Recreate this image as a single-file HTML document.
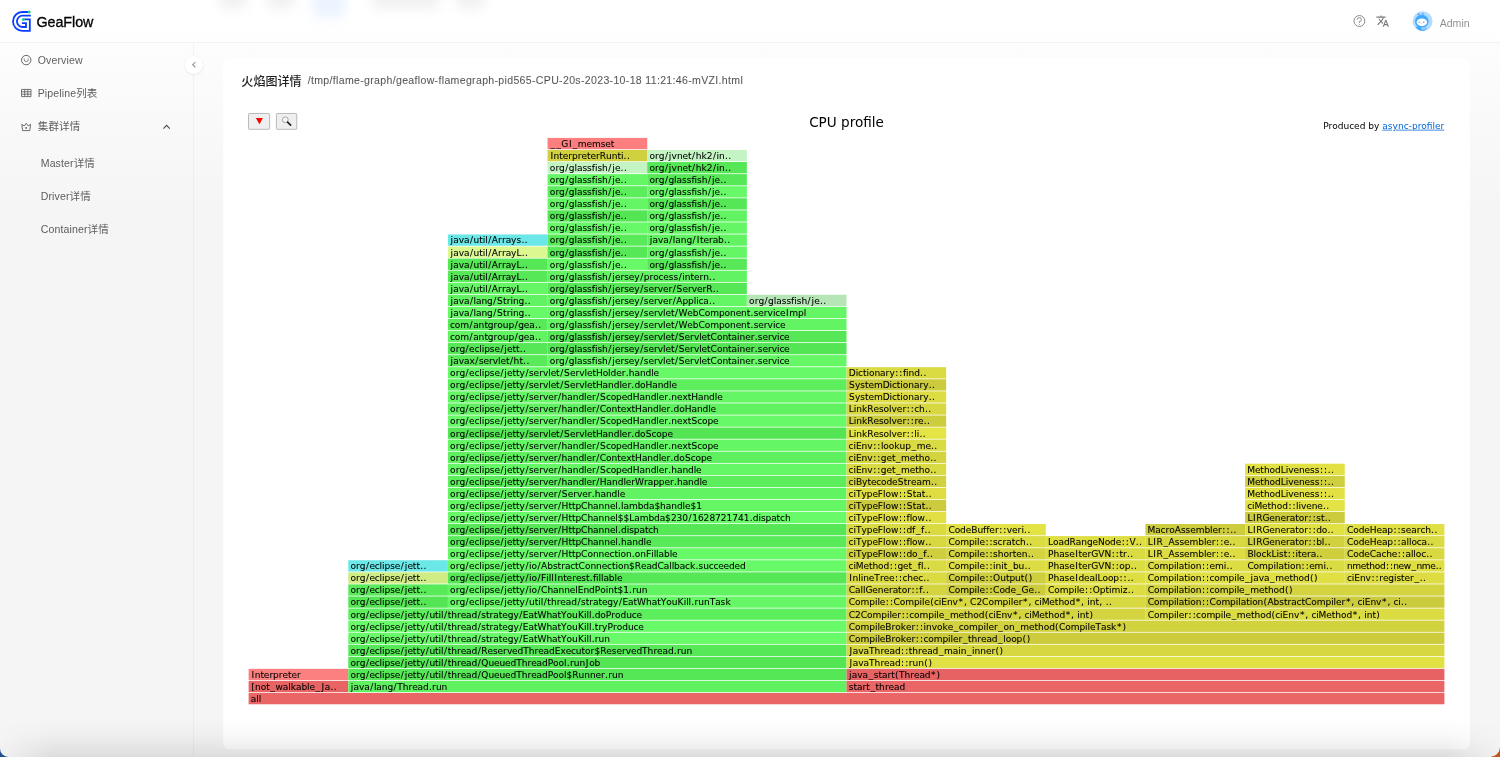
<!DOCTYPE html>
<html lang="zh-CN">
<head>
<meta charset="utf-8">
<title>GeaFlow</title>
<style>
html,body{margin:0;padding:0;width:1500px;height:757px;overflow:hidden;background:#f5f5f5}
body{font-family:"Liberation Sans","Noto Sans CJK SC",sans-serif;font-size:14px;color:rgba(0,0,0,.88)}
#app{position:absolute;left:0;top:0;width:1989px;height:1004px;transform:scale(0.754148);transform-origin:0 0;overflow:hidden;background:linear-gradient(#ffffff,#f5f5f5 28%)}
#app *{box-sizing:border-box}
.abs{position:absolute}
#hdr{position:absolute;left:0;top:0;width:1989px;height:57px;background:rgba(255,255,255,.6);border-bottom:1px solid rgba(5,5,5,.06);z-index:5}
#sider{position:absolute;left:0;top:56px;width:257px;height:948px;border-right:1px solid rgba(5,5,5,.05)}
.mi{position:absolute;left:50px;height:40px;line-height:40px;font-size:14px;color:rgba(0,0,0,.65);white-space:nowrap;letter-spacing:.15px}
.sub{left:54px}
#card{position:absolute;left:296px;top:78px;width:1653px;height:915.5px;background:#fff;border-radius:8px}
#fg{position:absolute;left:0;top:0;font-family:"DejaVu Sans","Liberation Sans",sans-serif;font-size:12px;color:#000}
.btn{position:absolute;top:149.8px;height:22.3px;background:#efefef;border:1.1px solid #a6a6a6;border-radius:1.6px}
#ov{position:absolute;left:0;top:0;width:1500px;height:757px;z-index:9;pointer-events:none}
#frames text{stroke:#000;stroke-width:.08px}
#shade{position:absolute;left:0;top:955px;width:1989px;height:49px;background:linear-gradient(rgba(0,0,0,0),rgba(0,0,0,.025) 40%,rgba(0,0,0,.095));z-index:8;-webkit-mask-image:linear-gradient(to right,rgba(0,0,0,.15) 0,#000 70px,#000 1919px,rgba(0,0,0,.15) 1989px);mask-image:linear-gradient(to right,rgba(0,0,0,.15) 0,#000 70px,#000 1919px,rgba(0,0,0,.15) 1989px)}
.blob{position:absolute;top:-14px;height:26px;border-radius:13px;background:#dcdcdc;filter:blur(7px)}

</style>
</head>
<body>
<div id="app">
  <div class="blob" style="left:288px;width:40px"></div>
  <div class="blob" style="left:352px;width:40px"></div>
  <div class="blob" style="left:414px;width:44px;background:#d0e4ff;height:46px;top:-22px"></div>
  <div class="blob" style="left:492px;width:92px"></div>
  <div class="blob" style="left:604px;width:40px"></div>
  <div id="sider">
    <div class="mi" style="top:4px">Overview</div>
    <div class="mi" style="top:48px">Pipeline列表</div>
    <div class="mi" style="top:92px">集群详情</div>
    <div class="mi sub" style="top:140px">Master详情</div>
    <div class="mi sub" style="top:184px">Driver详情</div>
    <div class="mi sub" style="top:228px">Container详情</div>
  </div>
  <div class="abs" id="colbtn" style="left:245px;top:73.5px;width:24px;height:24px;border-radius:12px;background:#fff;box-shadow:0 2px 8px -2px rgba(0,0,0,.05),0 1px 4px -1px rgba(25,15,15,.07),0 0 1px 0 rgba(0,0,0,.08)"></div>
  <div id="card">
    <div class="abs" id="ttl" style="left:24px;top:18.5px;height:24px;line-height:24px;white-space:nowrap"><span style="font-size:16px;font-weight:500;color:rgba(0,0,0,.88)">火焰图详情</span><span style="font-size:14px;color:rgba(0,0,0,.65);margin-left:8px;letter-spacing:.43px;position:relative;top:-1.5px;-webkit-text-stroke:.15px rgba(0,0,0,.5)">/tmp/flame-graph/geaflow-flamegraph-pid565-CPU-20s-2023-10-18 11:21:46-mVZI.html</span></div>
  </div>
  <div id="fg">
    <div class="btn" style="left:329.2px;width:28.7px"></div>
    <div class="btn" style="left:366.2px;width:27.9px"></div>
    <div class="abs" id="h1" style="left:330px;width:1585px;top:150.5px;text-align:center;font-size:18px;line-height:24px">CPU profile</div>
    <div class="abs" id="prod" style="left:330px;width:1585px;top:155px;text-align:right;line-height:24px">Produced by <a style="color:#0366d6;text-decoration:underline">async-profiler</a></div>
  </div>
  <div id="hdr">
    <div class="abs" id="logotxt" style="left:48.4px;top:15.8px;font-size:19px;line-height:28px;color:#000;letter-spacing:-.1px;-webkit-text-stroke:.4px #000">GeaFlow</div>
    <div class="abs" id="admin" style="left:1909px;top:19.6px;font-size:14px;line-height:22px;color:rgba(0,0,0,.45)">Admin</div>
  </div>
  <div id="shade"></div>
</div>
<svg id="ov" width="1500" height="757" viewBox="0 0 1500 757">
<g id="frames" font-family="'DejaVu Sans','Liberation Sans',sans-serif" font-size="9.05" fill="#000">
<rect x="248.62" y="692.96" width="1195.78" height="11.31" fill="#ea6666"/>
<rect x="248.62" y="680.90" width="99.65" height="11.31" fill="#e86464"/>
<rect x="348.27" y="680.90" width="498.24" height="11.31" fill="#60f160"/>
<rect x="846.51" y="680.90" width="597.89" height="11.31" fill="#ea6666"/>
<rect x="248.62" y="668.83" width="99.65" height="11.31" fill="#fd8080"/>
<rect x="348.27" y="668.83" width="498.24" height="11.31" fill="#56e756"/>
<rect x="846.51" y="668.83" width="597.89" height="11.31" fill="#e76262"/>
<rect x="348.27" y="656.76" width="498.24" height="11.31" fill="#54e554"/>
<rect x="846.51" y="656.76" width="597.89" height="11.31" fill="#e1e144"/>
<rect x="348.27" y="644.70" width="498.24" height="11.31" fill="#57e857"/>
<rect x="846.51" y="644.70" width="597.89" height="11.31" fill="#d7d741"/>
<rect x="348.27" y="632.63" width="498.24" height="11.31" fill="#69fa69"/>
<rect x="846.51" y="632.63" width="597.89" height="11.31" fill="#cccc3d"/>
<rect x="348.27" y="620.56" width="498.24" height="11.31" fill="#69fa69"/>
<rect x="846.51" y="620.56" width="597.89" height="11.31" fill="#d2d23f"/>
<rect x="348.27" y="608.50" width="498.24" height="11.31" fill="#5dee5d"/>
<rect x="846.51" y="608.50" width="298.95" height="11.31" fill="#d4d440"/>
<rect x="1145.46" y="608.50" width="298.95" height="11.31" fill="#dbdb42"/>
<rect x="348.27" y="596.43" width="99.65" height="11.31" fill="#54e554"/>
<rect x="447.92" y="596.43" width="398.59" height="11.31" fill="#66f766"/>
<rect x="846.51" y="596.43" width="298.95" height="11.31" fill="#d8d841"/>
<rect x="1145.46" y="596.43" width="298.95" height="11.31" fill="#cbcb3d"/>
<rect x="348.27" y="584.36" width="99.65" height="11.31" fill="#59ea59"/>
<rect x="447.92" y="584.36" width="398.59" height="11.31" fill="#62f362"/>
<rect x="846.51" y="584.36" width="99.65" height="11.31" fill="#d4d440"/>
<rect x="946.16" y="584.36" width="99.65" height="11.31" fill="#cccc3d"/>
<rect x="1045.81" y="584.36" width="99.65" height="11.31" fill="#dddd43"/>
<rect x="1145.46" y="584.36" width="298.95" height="11.31" fill="#d4d440"/>
<rect x="348.27" y="572.30" width="99.65" height="11.31" fill="#d0ec84"/>
<rect x="447.92" y="572.30" width="398.59" height="11.31" fill="#56e756"/>
<rect x="846.51" y="572.30" width="99.65" height="11.31" fill="#dada42"/>
<rect x="946.16" y="572.30" width="99.65" height="11.31" fill="#cece3e"/>
<rect x="1045.81" y="572.30" width="99.65" height="11.31" fill="#dede43"/>
<rect x="1145.46" y="572.30" width="199.30" height="11.31" fill="#e0e044"/>
<rect x="1344.75" y="572.30" width="99.65" height="11.31" fill="#dddd43"/>
<rect x="348.27" y="560.23" width="99.65" height="11.31" fill="#6be7e7"/>
<rect x="447.92" y="560.23" width="398.59" height="11.31" fill="#68f968"/>
<rect x="846.51" y="560.23" width="99.65" height="11.31" fill="#dada42"/>
<rect x="946.16" y="560.23" width="99.65" height="11.31" fill="#dddd43"/>
<rect x="1045.81" y="560.23" width="99.65" height="11.31" fill="#dbdb42"/>
<rect x="1145.46" y="560.23" width="99.65" height="11.31" fill="#dddd43"/>
<rect x="1245.10" y="560.23" width="99.65" height="11.31" fill="#dada42"/>
<rect x="1344.75" y="560.23" width="99.65" height="11.31" fill="#dede43"/>
<rect x="447.92" y="548.17" width="398.59" height="11.31" fill="#68f968"/>
<rect x="846.51" y="548.17" width="99.65" height="11.31" fill="#cece3e"/>
<rect x="946.16" y="548.17" width="99.65" height="11.31" fill="#d4d440"/>
<rect x="1045.81" y="548.17" width="99.65" height="11.31" fill="#dada42"/>
<rect x="1145.46" y="548.17" width="99.65" height="11.31" fill="#dddd43"/>
<rect x="1245.10" y="548.17" width="99.65" height="11.31" fill="#cfcf3e"/>
<rect x="1344.75" y="548.17" width="99.65" height="11.31" fill="#d8d841"/>
<rect x="447.92" y="536.10" width="398.59" height="11.31" fill="#59ea59"/>
<rect x="846.51" y="536.10" width="99.65" height="11.31" fill="#d7d741"/>
<rect x="946.16" y="536.10" width="99.65" height="11.31" fill="#dbdb42"/>
<rect x="1045.81" y="536.10" width="99.65" height="11.31" fill="#dede43"/>
<rect x="1145.46" y="536.10" width="99.65" height="11.31" fill="#d8d841"/>
<rect x="1245.10" y="536.10" width="99.65" height="11.31" fill="#d1d13f"/>
<rect x="1344.75" y="536.10" width="99.65" height="11.31" fill="#dada42"/>
<rect x="447.92" y="524.03" width="398.59" height="11.31" fill="#56e756"/>
<rect x="846.51" y="524.03" width="99.65" height="11.31" fill="#dada42"/>
<rect x="946.16" y="524.03" width="99.65" height="11.31" fill="#e3e345"/>
<rect x="1145.46" y="524.03" width="99.65" height="11.31" fill="#cccc3d"/>
<rect x="1245.10" y="524.03" width="99.65" height="11.31" fill="#e1e144"/>
<rect x="1344.75" y="524.03" width="99.65" height="11.31" fill="#e0e044"/>
<rect x="447.92" y="511.97" width="398.59" height="11.31" fill="#69fa69"/>
<rect x="846.51" y="511.97" width="99.65" height="11.31" fill="#e0e044"/>
<rect x="1245.10" y="511.97" width="99.65" height="11.31" fill="#cbcb3d"/>
<rect x="447.92" y="499.90" width="398.59" height="11.31" fill="#65f665"/>
<rect x="846.51" y="499.90" width="99.65" height="11.31" fill="#cbcb3d"/>
<rect x="1245.10" y="499.90" width="99.65" height="11.31" fill="#e3e345"/>
<rect x="447.92" y="487.83" width="398.59" height="11.31" fill="#62f362"/>
<rect x="846.51" y="487.83" width="99.65" height="11.31" fill="#dede43"/>
<rect x="1245.10" y="487.83" width="99.65" height="11.31" fill="#e1e144"/>
<rect x="447.92" y="475.77" width="398.59" height="11.31" fill="#5ced5c"/>
<rect x="846.51" y="475.77" width="99.65" height="11.31" fill="#d1d13f"/>
<rect x="1245.10" y="475.77" width="99.65" height="11.31" fill="#cece3e"/>
<rect x="447.92" y="463.70" width="398.59" height="11.31" fill="#66f766"/>
<rect x="846.51" y="463.70" width="99.65" height="11.31" fill="#dada42"/>
<rect x="1245.10" y="463.70" width="99.65" height="11.31" fill="#e1e144"/>
<rect x="447.92" y="451.63" width="398.59" height="11.31" fill="#5ff05f"/>
<rect x="846.51" y="451.63" width="99.65" height="11.31" fill="#d4d440"/>
<rect x="447.92" y="439.57" width="398.59" height="11.31" fill="#65f665"/>
<rect x="846.51" y="439.57" width="99.65" height="11.31" fill="#dada42"/>
<rect x="447.92" y="427.50" width="398.59" height="11.31" fill="#54e554"/>
<rect x="846.51" y="427.50" width="99.65" height="11.31" fill="#e4e445"/>
<rect x="447.92" y="415.44" width="398.59" height="11.31" fill="#68f968"/>
<rect x="846.51" y="415.44" width="99.65" height="11.31" fill="#cccc3d"/>
<rect x="447.92" y="403.37" width="398.59" height="11.31" fill="#60f160"/>
<rect x="846.51" y="403.37" width="99.65" height="11.31" fill="#d7d741"/>
<rect x="447.92" y="391.30" width="398.59" height="11.31" fill="#65f665"/>
<rect x="846.51" y="391.30" width="99.65" height="11.31" fill="#dddd43"/>
<rect x="447.92" y="379.24" width="398.59" height="11.31" fill="#5dee5d"/>
<rect x="846.51" y="379.24" width="99.65" height="11.31" fill="#cbcb3d"/>
<rect x="447.92" y="367.17" width="398.59" height="11.31" fill="#68f968"/>
<rect x="846.51" y="367.17" width="99.65" height="11.31" fill="#dada42"/>
<rect x="447.92" y="355.10" width="99.65" height="11.31" fill="#59ea59"/>
<rect x="547.57" y="355.10" width="298.95" height="11.31" fill="#66f766"/>
<rect x="447.92" y="343.04" width="99.65" height="11.31" fill="#56e756"/>
<rect x="547.57" y="343.04" width="298.95" height="11.31" fill="#54e554"/>
<rect x="447.92" y="330.97" width="99.65" height="11.31" fill="#62f362"/>
<rect x="547.57" y="330.97" width="298.95" height="11.31" fill="#56e756"/>
<rect x="447.92" y="318.90" width="99.65" height="11.31" fill="#59ea59"/>
<rect x="547.57" y="318.90" width="298.95" height="11.31" fill="#63f463"/>
<rect x="447.92" y="306.84" width="99.65" height="11.31" fill="#68f968"/>
<rect x="547.57" y="306.84" width="298.95" height="11.31" fill="#65f665"/>
<rect x="447.92" y="294.77" width="99.65" height="11.31" fill="#62f362"/>
<rect x="547.57" y="294.77" width="199.30" height="11.31" fill="#65f665"/>
<rect x="746.86" y="294.77" width="99.65" height="11.31" fill="#b6e5b6"/>
<rect x="447.92" y="282.71" width="99.65" height="11.31" fill="#65f665"/>
<rect x="547.57" y="282.71" width="199.30" height="11.31" fill="#56e756"/>
<rect x="447.92" y="270.64" width="99.65" height="11.31" fill="#57e857"/>
<rect x="547.57" y="270.64" width="199.30" height="11.31" fill="#62f362"/>
<rect x="447.92" y="258.57" width="99.65" height="11.31" fill="#56e756"/>
<rect x="547.57" y="258.57" width="99.65" height="11.31" fill="#68f968"/>
<rect x="647.21" y="258.57" width="99.65" height="11.31" fill="#57e857"/>
<rect x="447.92" y="246.51" width="99.65" height="11.31" fill="#dcf890"/>
<rect x="547.57" y="246.51" width="99.65" height="11.31" fill="#57e857"/>
<rect x="647.21" y="246.51" width="99.65" height="11.31" fill="#65f665"/>
<rect x="447.92" y="234.44" width="99.65" height="11.31" fill="#6be7e7"/>
<rect x="547.57" y="234.44" width="99.65" height="11.31" fill="#59ea59"/>
<rect x="647.21" y="234.44" width="99.65" height="11.31" fill="#62f362"/>
<rect x="547.57" y="222.37" width="99.65" height="11.31" fill="#68f968"/>
<rect x="647.21" y="222.37" width="99.65" height="11.31" fill="#65f665"/>
<rect x="547.57" y="210.31" width="99.65" height="11.31" fill="#54e554"/>
<rect x="647.21" y="210.31" width="99.65" height="11.31" fill="#62f362"/>
<rect x="547.57" y="198.24" width="99.65" height="11.31" fill="#65f665"/>
<rect x="647.21" y="198.24" width="99.65" height="11.31" fill="#56e756"/>
<rect x="547.57" y="186.17" width="99.65" height="11.31" fill="#5ced5c"/>
<rect x="647.21" y="186.17" width="99.65" height="11.31" fill="#68f968"/>
<rect x="547.57" y="174.11" width="99.65" height="11.31" fill="#65f665"/>
<rect x="647.21" y="174.11" width="99.65" height="11.31" fill="#57e857"/>
<rect x="547.57" y="162.04" width="99.65" height="11.31" fill="#c4f3c4"/>
<rect x="647.21" y="162.04" width="99.65" height="11.31" fill="#56e756"/>
<rect x="547.57" y="149.98" width="99.65" height="11.31" fill="#d1d13f"/>
<rect x="647.21" y="149.98" width="99.65" height="11.31" fill="#c4f3c4"/>
<rect x="547.57" y="137.91" width="99.65" height="11.31" fill="#fc7e7e"/>
<text x="250.8 256.3 258.8" y="702.01">all</text>
<text x="251.2 255.0 260.7 266.2 270.3 275.4 282.8 288.2 290.8 296.0 301.4 307.1 309.5 315.5 321.4 324.7 330.4 333.7" y="689.95">[not_walkable_Ja..</text>
<text x="350.8 353.6 359.0 364.3 370.3 373.9 376.3 381.8 387.4 393.6 397.2 402.8 408.5 412.2 417.6 423.1 428.9 432.1 435.9 441.6" y="689.95">java/lang/Thread.run</text>
<text x="848.8 853.5 857.0 862.5 866.3 870.5 875.6 879.1 884.9 888.6 894.0 899.4" y="689.95">start_thread</text>
<text x="251.4 254.7 260.4 263.8 269.4 273.1 278.8 282.5 288.0 291.5 297.0" y="677.88">Interpreter</text>
<text x="350.5 356.1 359.8 366.0 369.5 374.8 379.6 382.1 384.5 390.2 394.8 400.8 404.7 407.4 412.8 416.4 419.9 425.8 429.4 435.1 438.6 441.1 444.1 447.7 451.2 457.0 460.7 466.1 471.5 477.7 481.3 488.4 494.0 499.5 505.1 510.5 516.2 521.7 527.5 531.2 536.6 542.0 547.7 553.1 558.6 564.1 566.6 572.3 578.6 584.3 590.0 595.6 601.1 605.1 608.3 612.0 617.8" y="677.88">org/eclipse/jetty/util/thread/QueuedThreadPool$Runner.run</text>
<text x="849.1 851.8 857.3 862.6 868.7 873.8 878.5 882.0 887.5 891.3 895.1 899.0 904.5 910.3 914.0 919.4 924.8 931.1 936.5" y="677.88">java_start(Thread*)</text>
<text x="350.5 356.1 359.8 366.0 369.5 374.8 379.6 382.1 384.5 390.2 394.8 400.8 404.7 407.4 412.8 416.4 419.9 425.8 429.4 435.1 438.6 441.1 444.1 447.7 451.2 457.0 460.7 466.1 471.5 477.7 481.3 488.4 494.0 499.5 505.1 510.5 516.2 521.7 527.5 531.2 536.6 542.0 547.7 553.1 558.6 564.1 566.8 569.9 573.7 579.4 585.8 589.2 594.6" y="665.81">org/eclipse/jetty/util/thread/QueuedThreadPool.runJob</text>
<text x="849.5 852.8 858.3 863.6 869.1 874.6 880.4 884.1 889.5 894.9 901.1 905.2 908.8 912.6 918.3 924.3 928.4" y="665.81">JavaThread::run()</text>
<text x="350.5 356.1 359.8 366.0 369.5 374.8 379.6 382.1 384.5 390.2 394.8 400.8 404.7 407.4 412.8 416.4 419.9 425.8 429.4 435.1 438.6 441.1 444.1 447.7 451.2 457.0 460.7 466.1 471.5 477.7 481.3 487.5 492.9 497.5 503.1 506.9 512.1 517.5 523.2 528.7 534.5 538.2 543.6 549.0 554.7 560.4 565.7 571.0 575.8 581.5 585.1 590.6 594.4 600.2 606.3 611.8 616.4 621.9 625.7 631.0 636.4 642.1 647.6 653.4 657.1 662.5 667.9 673.8 676.9 680.7 686.4" y="653.75">org/eclipse/jetty/util/thread/ReservedThreadExecutor$ReservedThread.run</text>
<text x="849.5 852.8 858.3 863.6 869.1 874.6 880.4 884.1 889.5 894.9 901.1 905.2 908.8 912.3 918.1 921.8 927.2 932.6 938.9 944.0 952.7 958.2 960.7 967.0 972.1 974.6 980.3 985.9 991.5 995.5 999.6" y="653.75">JavaThread::thread_main_inner()</text>
<text x="350.5 356.1 359.8 366.0 369.5 374.8 379.6 382.1 384.5 390.2 394.8 400.8 404.7 407.4 412.8 416.4 419.9 425.8 429.4 435.1 438.6 441.1 444.1 447.7 451.2 457.0 460.7 466.1 471.5 477.7 481.3 486.0 489.6 493.3 498.8 502.3 507.7 513.4 519.2 522.8 528.4 533.9 537.5 546.4 552.0 557.5 561.1 566.6 572.1 578.0 584.0 586.5 589.0 591.7 594.8 598.6 604.3" y="641.68">org/eclipse/jetty/util/thread/strategy/EatWhatYouKill.run</text>
<text x="848.8 855.0 860.5 869.3 874.9 877.4 879.8 885.2 891.5 895.3 900.8 906.0 911.5 915.8 919.9 923.4 928.2 933.7 942.4 948.1 950.5 952.9 958.5 962.9 968.0 971.5 977.3 981.0 986.4 991.8 998.1 1003.2 1005.7 1011.2 1016.6 1022.6 1026.7" y="641.68">CompileBroker::compiler_thread_loop()</text>
<text x="350.5 356.1 359.8 366.0 369.5 374.8 379.6 382.1 384.5 390.2 394.8 400.8 404.7 407.4 412.8 416.4 419.9 425.8 429.4 435.1 438.6 441.1 444.1 447.7 451.2 457.0 460.7 466.1 471.5 477.7 481.3 486.0 489.6 493.3 498.8 502.3 507.7 513.4 519.2 522.8 528.4 533.9 537.5 546.4 552.0 557.5 561.1 566.6 572.1 578.0 584.0 586.5 589.0 591.7 594.8 598.4 602.1 607.5 613.0 616.7 622.2 627.9 633.4 638.2" y="629.61">org/eclipse/jetty/util/thread/strategy/EatWhatYouKill.tryProduce</text>
<text x="848.8 855.0 860.5 869.3 874.9 877.4 879.8 885.2 891.5 895.3 900.8 906.0 911.5 915.8 919.9 923.5 926.0 931.7 937.0 942.6 947.7 953.8 958.8 963.6 969.1 977.8 983.5 986.0 988.4 993.9 998.3 1003.4 1008.9 1015.2 1020.3 1029.0 1034.5 1038.0 1043.7 1049.2 1055.1 1058.9 1065.2 1070.7 1079.4 1085.1 1087.6 1089.9 1095.4 1100.9 1106.4 1111.1 1117.0 1122.4" y="629.61">CompileBroker::invoke_compiler_on_method(CompileTask*)</text>
<text x="350.5 356.1 359.8 366.0 369.5 374.8 379.6 382.1 384.5 390.2 394.8 400.8 404.7 407.4 412.8 416.4 419.9 425.8 429.4 435.1 438.6 441.1 444.1 447.7 451.2 457.0 460.7 466.1 471.5 477.7 481.3 486.0 489.6 493.3 498.8 502.3 507.7 513.4 519.2 522.8 528.4 533.9 537.5 546.4 552.0 557.5 561.1 566.6 572.1 578.0 584.0 586.5 589.0 591.7 594.7 600.3 605.8 611.3 615.1 620.5 626.2 631.8 636.5" y="617.55">org/eclipse/jetty/util/thread/strategy/EatWhatYouKill.doProduce</text>
<text x="848.8 855.1 860.8 867.1 872.6 881.3 886.9 889.4 891.8 897.3 901.7 905.7 909.2 914.0 919.5 928.2 933.9 936.3 938.7 944.8 949.9 958.6 964.1 967.6 973.3 978.8 984.7 988.4 993.2 995.7 1001.4 1007.1 1013.1 1018.4 1021.6 1024.5 1029.3 1031.7 1039.3 1044.8 1048.3 1054.0 1059.5 1065.7 1071.1 1074.3 1077.3 1079.8 1085.5 1089.4" y="617.55">C2Compiler::compile_method(ciEnv*, ciMethod*, int)</text>
<text x="1147.7 1154.0 1159.5 1168.2 1173.9 1176.3 1178.7 1184.3 1188.6 1192.7 1196.1 1200.9 1206.4 1215.1 1220.8 1223.2 1225.6 1231.7 1236.8 1245.5 1251.0 1254.5 1260.2 1265.7 1271.6 1275.3 1280.1 1282.6 1288.3 1294.0 1300.0 1305.3 1308.5 1311.4 1316.2 1318.6 1326.2 1331.7 1335.2 1340.9 1346.4 1352.7 1358.0 1361.2 1364.2 1366.7 1372.4 1376.3" y="617.55">Compiler::compile_method(ciEnv*, ciMethod*, int)</text>
<text x="350.5 356.1 359.8 366.0 369.5 374.8 379.6 382.1 384.5 390.2 394.8 400.8 404.7 407.4 412.8 416.4 420.2 423.4" y="605.48">org/eclipse/jett..</text>
<text x="450.1 455.7 459.4 465.6 469.1 474.5 479.3 481.7 484.2 489.8 494.5 500.4 504.3 507.0 512.5 516.0 519.6 525.5 529.0 534.7 538.3 540.7 543.8 547.3 550.9 556.7 560.3 565.8 571.2 577.4 580.9 585.7 589.3 593.0 598.5 601.9 607.3 613.0 618.9 622.4 628.1 633.6 637.1 646.0 651.7 657.2 660.7 666.2 671.7 677.6 683.7 686.2 688.6 691.3 694.5 698.2 703.9 709.7 715.2 720.6 725.4" y="605.48">org/eclipse/jetty/util/thread/strategy/EatWhatYouKill.runTask</text>
<text x="848.8 855.0 860.5 869.3 874.9 877.4 879.8 885.8 889.9 893.4 899.7 905.2 913.9 919.6 922.0 924.4 930.2 933.9 938.7 941.2 946.9 952.6 958.5 963.9 967.1 970.1 976.4 982.1 988.4 993.9 1002.6 1008.3 1010.8 1013.2 1018.7 1023.1 1028.4 1031.6 1034.5 1039.3 1041.7 1049.3 1054.8 1058.4 1064.0 1069.5 1075.8 1081.1 1084.3 1087.3 1089.8 1095.5 1099.3 1102.5 1105.8 1109.0" y="605.48">Compile::Compile(ciEnv*, C2Compiler*, ciMethod*, int, ..</text>
<text x="1147.7 1154.0 1159.5 1168.2 1173.9 1176.3 1178.8 1184.2 1187.8 1190.2 1195.7 1202.0 1206.1 1209.6 1215.9 1221.4 1230.1 1235.8 1238.2 1240.7 1246.2 1249.7 1252.2 1257.6 1263.6 1267.4 1273.6 1279.2 1283.9 1287.6 1291.3 1296.6 1301.5 1305.0 1311.3 1316.8 1325.5 1331.2 1333.6 1336.0 1341.6 1346.0 1351.3 1354.5 1357.4 1362.2 1364.7 1370.4 1376.1 1382.1 1387.4 1390.6 1393.5 1398.3 1401.0 1404.3" y="605.48">Compilation::Compilation(AbstractCompiler*, ciEnv*, ci..</text>
<text x="350.5 356.1 359.8 366.0 369.5 374.8 379.6 382.1 384.5 390.2 394.8 400.8 404.7 407.4 412.8 416.4 420.2 423.4" y="593.41">org/eclipse/jett..</text>
<text x="450.1 455.7 459.4 465.6 469.1 474.5 479.3 481.7 484.2 489.8 494.5 500.4 504.3 507.0 512.5 516.0 519.6 525.5 529.0 531.5 537.5 541.1 547.4 553.0 558.5 564.2 569.8 575.3 577.7 583.4 589.1 594.8 600.2 605.7 608.2 613.9 617.4 623.2 629.1 632.2 636.0 641.7" y="593.41">org/eclipse/jetty/io/ChannelEndPoint$1.run</text>
<text x="848.8 855.0 860.5 862.9 865.4 872.3 877.8 883.4 888.9 892.7 898.1 901.7 907.2 911.5 915.6 919.2 922.6 925.9" y="593.41">CallGenerator::f..</text>
<text x="948.4 954.7 960.2 968.9 974.6 977.0 979.4 985.4 989.5 993.1 999.4 1004.8 1010.4 1016.5 1021.6 1028.5 1034.2 1037.4" y="593.41">Compile::Code_Ge..</text>
<text x="1048.1 1054.3 1059.8 1068.5 1074.2 1076.7 1079.1 1085.1 1089.2 1092.7 1099.8 1105.5 1109.0 1111.5 1120.2 1122.7 1127.7 1130.9" y="593.41">Compile::Optimiz..</text>
<text x="1147.7 1154.0 1159.5 1168.2 1173.9 1176.3 1178.8 1184.2 1187.8 1190.2 1195.7 1202.0 1206.1 1209.5 1214.3 1219.8 1228.5 1234.2 1236.7 1239.0 1245.1 1250.2 1258.9 1264.4 1267.9 1273.6 1279.1 1285.0 1289.1" y="593.41">Compilation::compile_method()</text>
<text x="350.5 356.1 359.8 366.0 369.5 374.8 379.6 382.1 384.5 390.2 394.8 400.8 404.7 407.4 412.8 416.4 420.2 423.4" y="581.35">org/eclipse/jett..</text>
<text x="450.1 455.7 459.4 465.6 469.1 474.5 479.3 481.7 484.2 489.8 494.5 500.4 504.3 507.0 512.5 516.0 519.6 525.5 529.0 531.5 537.5 541.1 546.2 548.7 551.2 554.2 557.5 563.2 566.6 572.2 575.9 581.3 586.0 589.8 592.9 596.0 598.5 601.0 603.4 608.8 614.5 616.9" y="581.35">org/eclipse/jetty/io/FillInterest.fillable</text>
<text x="849.3 852.6 858.3 860.7 863.2 868.8 874.3 879.9 883.6 889.0 895.0 899.1 902.5 907.3 913.0 918.3 923.3 926.6" y="581.35">InlineTree::chec..</text>
<text x="948.4 954.7 960.2 968.9 974.6 977.0 979.4 985.4 989.5 993.1 1000.2 1005.9 1009.4 1015.1 1020.8 1024.6 1028.7" y="581.35">Compile::Output()</text>
<text x="1048.1 1053.5 1059.2 1064.6 1069.2 1075.3 1078.4 1084.0 1089.4 1094.9 1097.4 1102.4 1107.9 1113.3 1119.5 1123.6 1127.4 1130.7" y="581.35">PhaseIdealLoop::..</text>
<text x="1147.7 1154.0 1159.5 1168.2 1173.9 1176.3 1178.8 1184.2 1187.8 1190.2 1195.7 1202.0 1206.1 1209.5 1214.3 1219.8 1228.5 1234.2 1236.7 1239.0 1245.1 1250.5 1253.3 1258.8 1264.1 1270.1 1275.2 1283.9 1289.4 1293.0 1298.6 1304.1 1310.1 1314.1" y="581.35">Compilation::compile_java_method()</text>
<text x="1346.9 1351.7 1354.2 1359.9 1365.6 1371.5 1375.5 1379.2 1382.9 1388.3 1393.9 1396.4 1401.1 1404.6 1410.1 1414.5 1419.8 1423.1" y="581.35">ciEnv::register_..</text>
<text x="350.5 356.1 359.8 366.0 369.5 374.8 379.6 382.1 384.5 390.2 394.8 400.8 404.7 407.4 412.8 416.4 420.2 423.4" y="569.28">org/eclipse/jett..</text>
<text x="450.1 455.7 459.4 465.6 469.1 474.5 479.3 481.7 484.2 489.8 494.5 500.4 504.3 507.0 512.5 516.0 519.6 525.5 529.0 531.5 537.5 541.1 547.2 552.9 557.6 561.2 564.9 570.2 575.1 578.6 584.9 590.4 596.1 601.7 607.1 611.9 615.4 617.9 623.4 629.1 634.8 641.0 646.4 651.8 657.5 663.7 669.2 671.7 674.1 679.7 685.1 690.0 695.4 698.5 703.2 708.8 713.5 718.2 723.6 729.0 734.6 740.0" y="569.28">org/eclipse/jetty/io/AbstractConnection$ReadCallback.succeeded</text>
<text x="848.6 853.4 855.8 863.4 868.9 872.5 878.1 883.6 889.8 893.9 897.4 903.0 908.5 912.6 917.7 920.9 923.6 926.9" y="569.28">ciMethod::get_fl..</text>
<text x="948.4 954.7 960.2 968.9 974.6 977.0 979.4 985.4 989.5 993.1 995.5 1001.2 1003.7 1007.9 1013.0 1018.6 1024.6 1027.8" y="569.28">Compile::init_bu..</text>
<text x="1048.1 1053.5 1059.2 1064.6 1069.2 1075.3 1078.5 1082.0 1087.5 1091.3 1098.3 1104.4 1111.7 1115.8 1119.3 1124.8 1130.7 1134.0" y="569.28">PhaseIterGVN::op..</text>
<text x="1147.7 1154.0 1159.5 1168.2 1173.9 1176.3 1178.8 1184.2 1187.8 1190.2 1195.7 1202.0 1206.1 1209.5 1215.0 1223.8 1226.5 1229.7" y="569.28">Compilation::emi..</text>
<text x="1247.4 1253.6 1259.1 1267.8 1273.5 1276.0 1278.4 1283.9 1287.4 1289.9 1295.4 1301.6 1305.7 1309.2 1314.6 1323.4 1326.1 1329.4" y="569.28">Compilation::emi..</text>
<text x="1346.9 1352.3 1360.7 1366.0 1369.3 1374.7 1379.9 1385.9 1389.9 1393.2 1398.6 1403.8 1411.5 1416.4 1421.8 1430.2 1435.7 1438.8" y="569.28">nmethod::new_nme..</text>
<text x="450.1 455.7 459.4 465.6 469.1 474.5 479.3 481.7 484.2 489.8 494.5 500.4 504.3 507.0 512.5 516.0 519.6 525.5 529.0 533.6 539.2 542.9 548.2 553.7 558.0 561.6 568.4 571.9 575.4 581.1 587.4 592.9 598.6 604.2 609.5 614.4 617.9 620.4 625.9 631.8 634.8 640.3 646.0 651.2 653.7 656.1 658.6 664.0 669.7 672.1" y="557.22">org/eclipse/jetty/server/HttpConnection.onFillable</text>
<text x="848.6 853.4 856.0 861.5 866.8 872.4 877.8 883.0 885.5 890.9 898.9 903.0 906.5 912.1 918.2 923.3 926.7 930.0" y="557.22">ciTypeFlow::do_f..</text>
<text x="948.4 954.7 960.2 968.9 974.6 977.0 979.4 985.4 989.5 993.1 997.8 1003.5 1009.0 1012.8 1016.3 1021.7 1027.7 1030.9" y="557.22">Compile::shorten..</text>
<text x="1048.1 1053.5 1059.2 1064.6 1069.2 1075.3 1078.5 1082.0 1087.5 1091.3 1098.3 1104.4 1111.7 1115.8 1119.4 1123.0 1127.0 1130.3" y="557.22">PhaseIterGVN::tr..</text>
<text x="1147.7 1153.3 1156.5 1163.4 1168.5 1174.7 1179.4 1184.0 1189.5 1198.2 1203.9 1206.2 1211.8 1216.1 1220.2 1223.7 1229.3 1232.6" y="557.22">LIR_Assembler::e..</text>
<text x="1247.4 1253.5 1256.0 1261.4 1266.2 1271.5 1276.5 1279.0 1283.7 1287.8 1291.9 1295.4 1297.9 1301.4 1306.9 1310.7 1316.3 1319.6" y="557.22">BlockList::itera..</text>
<text x="1347.0 1353.3 1358.7 1364.3 1369.8 1376.0 1381.4 1386.2 1391.8 1397.8 1401.9 1405.4 1410.9 1413.3 1415.8 1421.2 1426.2 1429.5" y="557.22">CodeCache::alloc..</text>
<text x="450.1 455.7 459.4 465.6 469.1 474.5 479.3 481.7 484.2 489.8 494.5 500.4 504.3 507.0 512.5 516.0 519.6 525.5 529.0 533.6 539.2 542.9 548.2 553.7 558.0 561.6 568.4 571.9 575.4 581.1 587.4 593.1 598.5 604.2 609.9 615.3 618.0 621.1 626.7 632.2 637.9 643.5 645.9" y="545.15">org/eclipse/jetty/server/HttpChannel.handle</text>
<text x="848.6 853.4 856.0 861.5 866.8 872.4 877.8 883.0 885.5 890.9 898.9 903.0 906.5 909.7 912.1 917.6 925.2 928.5" y="545.15">ciTypeFlow::flow..</text>
<text x="948.4 954.7 960.2 968.9 974.6 977.0 979.4 985.4 989.5 993.1 997.6 1002.5 1006.3 1011.8 1015.2 1020.0 1025.9 1029.2" y="545.15">Compile::scratch..</text>
<text x="1048.1 1053.1 1058.5 1063.9 1069.6 1075.8 1081.3 1086.9 1092.5 1098.0 1104.7 1110.1 1115.7 1121.7 1125.8 1129.4 1135.8 1139.0" y="545.15">LoadRangeNode::V..</text>
<text x="1147.7 1153.3 1156.5 1163.4 1168.5 1174.7 1179.4 1184.0 1189.5 1198.2 1203.9 1206.2 1211.8 1216.1 1220.2 1223.7 1229.3 1232.6" y="545.15">LIR_Assembler::e..</text>
<text x="1247.4 1253.0 1256.2 1262.4 1269.3 1274.8 1280.4 1286.0 1289.7 1295.2 1298.7 1304.3 1308.6 1312.7 1316.2 1321.8 1324.5 1327.8" y="545.15">LIRGenerator::bl..</text>
<text x="1347.0 1353.3 1358.7 1364.3 1369.8 1376.5 1381.9 1387.3 1393.5 1397.6 1401.1 1406.5 1409.0 1411.5 1416.8 1421.6 1427.3 1430.6" y="545.15">CodeHeap::alloca..</text>
<text x="450.1 455.7 459.4 465.6 469.1 474.5 479.3 481.7 484.2 489.8 494.5 500.4 504.3 507.0 512.5 516.0 519.6 525.5 529.0 533.6 539.2 542.9 548.2 553.7 558.0 561.6 568.4 571.9 575.4 581.1 587.4 593.1 598.5 604.2 609.9 615.3 618.0 621.0 626.7 629.2 633.8 639.4 644.9 648.3 653.1" y="533.08">org/eclipse/jetty/server/HttpChannel.dispatch</text>
<text x="848.6 853.4 856.0 861.5 866.8 872.4 877.8 883.0 885.5 890.9 898.9 903.0 906.5 912.1 915.9 921.0 924.4 927.7" y="533.08">ciTypeFlow::df_f..</text>
<text x="948.4 954.7 960.1 965.7 971.2 977.4 983.1 986.2 989.3 994.9 999.2 1003.3 1006.8 1012.1 1017.6 1021.4 1024.1 1027.4" y="533.08">CodeBuffer::veri..</text>
<text x="1147.6 1155.3 1160.6 1165.5 1169.3 1174.8 1180.9 1185.6 1190.2 1195.7 1204.4 1210.1 1212.5 1218.0 1222.3 1226.4 1230.2 1233.5" y="533.08">MacroAssembler::..</text>
<text x="1247.4 1253.0 1256.2 1262.4 1269.3 1274.8 1280.4 1286.0 1289.7 1295.2 1298.7 1304.3 1308.6 1312.7 1316.2 1321.8 1327.5 1330.8" y="533.08">LIRGenerator::do..</text>
<text x="1347.0 1353.3 1358.7 1364.3 1369.8 1376.5 1381.9 1387.3 1393.5 1397.6 1401.1 1405.8 1411.2 1416.7 1420.4 1425.2 1431.1 1434.4" y="533.08">CodeHeap::search..</text>
<text x="450.1 455.7 459.4 465.6 469.1 474.5 479.3 481.7 484.2 489.8 494.5 500.4 504.3 507.0 512.5 516.0 519.6 525.5 529.0 533.6 539.2 542.9 548.2 553.7 558.0 561.6 568.4 571.9 575.4 581.1 587.4 593.1 598.5 604.2 609.9 615.3 617.8 623.5 629.3 634.2 639.7 648.4 654.0 659.7 665.1 670.9 676.6 682.3 688.6 692.2 697.9 703.6 709.4 715.1 720.8 726.6 732.3 738.1 743.8 749.7 752.8 758.4 760.9 765.5 771.2 776.6 780.1 784.9" y="521.02">org/eclipse/jetty/server/HttpChannel$$Lambda$230/1628721741.dispatch</text>
<text x="848.6 853.4 856.0 861.5 866.8 872.4 877.8 883.0 885.5 890.9 898.9 903.0 906.5 909.7 912.1 917.6 925.2 928.5" y="521.02">ciTypeFlow::flow..</text>
<text x="1247.4 1253.0 1256.2 1262.4 1269.3 1274.8 1280.4 1286.0 1289.7 1295.2 1298.7 1304.3 1308.6 1312.7 1316.2 1320.9 1324.7 1328.0" y="521.02">LIRGenerator::st..</text>
<text x="450.1 455.7 459.4 465.6 469.1 474.5 479.3 481.7 484.2 489.8 494.5 500.4 504.3 507.0 512.5 516.0 519.6 525.5 529.0 533.6 539.2 542.9 548.2 553.7 558.0 561.6 568.4 571.9 575.4 581.1 587.4 593.1 598.5 604.2 609.9 615.3 618.0 621.1 623.5 629.0 637.7 643.3 648.9 654.4 660.1 665.8 671.3 676.9 682.6 685.0 690.4 696.2" y="508.95">org/eclipse/jetty/server/HttpChannel.lambda$handle$1</text>
<text x="848.6 853.4 856.0 861.5 866.8 872.4 877.8 883.0 885.5 890.9 898.9 903.0 906.7 912.7 916.2 921.7 925.4 928.7" y="508.95">ciTypeFlow::Stat..</text>
<text x="1247.2 1252.0 1254.4 1262.0 1267.5 1271.1 1276.7 1282.2 1288.4 1292.5 1296.0 1298.5 1301.0 1306.2 1311.7 1317.3 1323.0 1326.3" y="508.95">ciMethod::livene..</text>
<text x="450.1 455.7 459.4 465.6 469.1 474.5 479.3 481.7 484.2 489.8 494.5 500.4 504.3 507.0 512.5 516.0 519.6 525.5 529.0 533.6 539.2 542.9 548.2 553.7 558.0 561.8 567.7 573.2 577.0 582.3 587.8 591.8 594.8 600.5 606.0 611.6 617.3 619.7" y="496.88">org/eclipse/jetty/server/Server.handle</text>
<text x="848.6 853.4 856.0 861.5 866.8 872.4 877.8 883.0 885.5 890.9 898.9 903.0 906.7 912.7 916.2 921.7 925.4 928.7" y="496.88">ciTypeFlow::Stat..</text>
<text x="1247.3 1254.9 1260.3 1263.9 1269.6 1275.0 1280.7 1285.7 1288.2 1293.4 1298.9 1304.5 1310.0 1314.7 1319.9 1324.0 1327.8 1331.1" y="496.88">MethodLiveness::..</text>
<text x="450.1 455.7 459.4 465.6 469.1 474.5 479.3 481.7 484.2 489.8 494.5 500.4 504.3 507.0 512.5 516.0 519.6 525.5 529.0 533.6 539.2 542.9 548.2 553.7 558.0 561.6 567.3 572.7 578.4 584.0 586.4 592.0 596.3 599.8 606.6 612.0 617.7 623.4 625.8 631.3 635.1 644.1 647.8 653.2 658.8 664.4 669.9 673.9 677.0 682.7 688.1 693.8 699.4 701.8" y="484.82">org/eclipse/jetty/server/handler/HandlerWrapper.handle</text>
<text x="848.6 853.4 855.9 862.1 867.5 870.9 876.3 881.1 886.5 892.1 897.8 903.7 907.3 911.0 916.4 921.9 930.9 934.2" y="484.82">ciBytecodeStream..</text>
<text x="1247.3 1254.9 1260.3 1263.9 1269.6 1275.0 1280.7 1285.7 1288.2 1293.4 1298.9 1304.5 1310.0 1314.7 1319.9 1324.0 1327.8 1331.1" y="484.82">MethodLiveness::..</text>
<text x="450.1 455.7 459.4 465.6 469.1 474.5 479.3 481.7 484.2 489.8 494.5 500.4 504.3 507.0 512.5 516.0 519.6 525.5 529.0 533.6 539.2 542.9 548.2 553.7 558.0 561.6 567.3 572.7 578.4 584.0 586.4 592.0 596.3 600.1 605.9 610.7 616.1 621.7 627.1 632.8 639.5 645.0 650.7 656.3 658.7 664.2 668.2 671.3 677.0 682.4 688.1 693.7 696.1" y="472.75">org/eclipse/jetty/server/handler/ScopedHandler.handle</text>
<text x="848.6 853.4 855.9 861.6 867.3 873.2 877.3 880.8 886.4 891.9 896.0 901.1 909.8 915.3 918.8 924.5 930.2 933.5" y="472.75">ciEnv::get_metho..</text>
<text x="1247.3 1254.9 1260.3 1263.9 1269.6 1275.0 1280.7 1285.7 1288.2 1293.4 1298.9 1304.5 1310.0 1314.7 1319.9 1324.0 1327.8 1331.1" y="472.75">MethodLiveness::..</text>
<text x="450.1 455.7 459.4 465.6 469.1 474.5 479.3 481.7 484.2 489.8 494.5 500.4 504.3 507.0 512.5 516.0 519.6 525.5 529.0 533.6 539.2 542.9 548.2 553.7 558.0 561.6 567.3 572.7 578.4 584.0 586.4 592.0 596.3 599.8 606.1 611.6 617.3 620.8 626.3 631.6 635.1 641.9 647.3 653.0 658.7 661.1 666.6 670.6 673.6 679.2 685.0 690.8 695.6 701.0 706.6" y="460.68">org/eclipse/jetty/server/handler/ContextHandler.doScope</text>
<text x="848.6 853.4 855.9 861.6 867.3 873.2 877.3 880.8 886.4 891.9 896.0 901.1 909.8 915.3 918.8 924.5 930.2 933.5" y="460.68">ciEnv::get_metho..</text>
<text x="450.1 455.7 459.4 465.6 469.1 474.5 479.3 481.7 484.2 489.8 494.5 500.4 504.3 507.0 512.5 516.0 519.6 525.5 529.0 533.6 539.2 542.9 548.2 553.7 558.0 561.6 567.3 572.7 578.4 584.0 586.4 592.0 596.3 600.1 605.9 610.7 616.1 621.7 627.1 632.8 639.5 645.0 650.7 656.3 658.7 664.2 668.2 671.3 676.9 682.4 687.7 691.5 697.3 702.1 707.6 713.1" y="448.62">org/eclipse/jetty/server/handler/ScopedHandler.nextScope</text>
<text x="848.6 853.4 855.9 861.6 867.3 873.2 877.3 880.9 883.3 888.8 894.3 899.6 905.3 911.6 916.7 925.4 931.0 934.3" y="448.62">ciEnv::lookup_me..</text>
<text x="450.1 455.7 459.4 465.6 469.1 474.5 479.3 481.7 484.2 489.8 494.5 500.4 504.3 507.0 512.5 516.0 519.6 525.5 529.0 533.6 539.2 542.9 548.3 550.7 556.1 560.2 564.0 569.9 575.4 579.2 584.5 586.9 592.4 595.9 602.6 608.1 613.8 619.4 621.8 627.4 631.3 634.4 640.0 645.7 651.5 656.3 661.8 667.4" y="436.55">org/eclipse/jetty/servlet/ServletHandler.doScope</text>
<text x="848.8 853.8 856.3 862.0 867.3 873.5 878.9 883.6 889.1 891.6 896.8 902.4 906.7 910.8 914.3 916.8 919.5 922.8" y="436.55">LinkResolver::li..</text>
<text x="450.1 455.7 459.4 465.6 469.1 474.5 479.3 481.7 484.2 489.8 494.5 500.4 504.3 507.0 512.5 516.0 519.6 525.5 529.0 533.6 539.2 542.9 548.2 553.7 558.0 561.6 567.3 572.7 578.4 584.0 586.4 592.0 596.3 600.1 605.9 610.7 616.1 621.7 627.1 632.8 639.5 645.0 650.7 656.3 658.7 664.2 668.2 671.3 676.9 682.4 687.7 691.5 697.3 702.1 707.6 713.1" y="424.49">org/eclipse/jetty/server/handler/ScopedHandler.nextScope</text>
<text x="848.8 853.8 856.3 862.0 867.3 873.5 878.9 883.6 889.1 891.6 896.8 902.4 906.7 910.8 914.4 918.1 923.8 927.1" y="424.49">LinkResolver::re..</text>
<text x="450.1 455.7 459.4 465.6 469.1 474.5 479.3 481.7 484.2 489.8 494.5 500.4 504.3 507.0 512.5 516.0 519.6 525.5 529.0 533.6 539.2 542.9 548.2 553.7 558.0 561.6 567.3 572.7 578.4 584.0 586.4 592.0 596.3 599.8 606.1 611.6 617.3 620.8 626.3 631.6 635.1 641.9 647.3 653.0 658.7 661.1 666.6 670.6 673.6 679.2 684.7 691.5 696.9 702.6 708.2 710.6" y="412.42">org/eclipse/jetty/server/handler/ContextHandler.doHandle</text>
<text x="848.8 853.8 856.3 862.0 867.3 873.5 878.9 883.6 889.1 891.6 896.8 902.4 906.7 910.8 914.2 919.0 925.0 928.2" y="412.42">LinkResolver::ch..</text>
<text x="450.1 455.7 459.4 465.6 469.1 474.5 479.3 481.7 484.2 489.8 494.5 500.4 504.3 507.0 512.5 516.0 519.6 525.5 529.0 533.6 539.2 542.9 548.2 553.7 558.0 561.6 567.3 572.7 578.4 584.0 586.4 592.0 596.3 600.1 605.9 610.7 616.1 621.7 627.1 632.8 639.5 645.0 650.7 656.3 658.7 664.2 668.2 671.3 676.9 682.4 687.7 691.3 698.0 703.5 709.1 714.8 717.2" y="400.35">org/eclipse/jetty/server/handler/ScopedHandler.nextHandle</text>
<text x="849.0 854.9 860.3 865.0 868.4 873.9 882.7 889.6 892.0 896.8 900.3 902.8 908.3 913.9 919.5 923.3 928.8 932.1" y="400.35">SystemDictionary..</text>
<text x="450.1 455.7 459.4 465.6 469.1 474.5 479.3 481.7 484.2 489.8 494.5 500.4 504.3 507.0 512.5 516.0 519.6 525.5 529.0 533.6 539.2 542.9 548.3 550.7 556.1 560.2 564.0 569.9 575.4 579.2 584.5 586.9 592.4 595.9 602.6 608.1 613.8 619.4 621.8 627.4 631.3 634.4 640.0 645.5 652.2 657.7 663.3 669.0 671.4" y="388.29">org/eclipse/jetty/servlet/ServletHandler.doHandle</text>
<text x="849.0 854.9 860.3 865.0 868.4 873.9 882.7 889.6 892.0 896.8 900.3 902.8 908.3 913.9 919.5 923.3 928.8 932.1" y="388.29">SystemDictionary..</text>
<text x="450.1 455.7 459.4 465.6 469.1 474.5 479.3 481.7 484.2 489.8 494.5 500.4 504.3 507.0 512.5 516.0 519.6 525.5 529.0 533.6 539.2 542.9 548.3 550.7 556.1 560.2 564.0 569.9 575.4 579.2 584.5 586.9 592.4 595.9 602.7 608.1 610.6 616.2 621.7 625.7 628.8 634.4 639.9 645.5 651.2 653.6" y="376.22">org/eclipse/jetty/servlet/ServletHolder.handle</text>
<text x="848.8 855.7 858.1 862.9 866.4 868.9 874.4 880.0 885.6 889.4 895.2 899.3 902.9 906.1 908.5 914.2 920.1 923.4" y="376.22">Dictionary::find..</text>
<text x="450.5 453.2 458.7 464.0 469.5 475.3 478.9 483.5 489.0 492.8 498.1 500.5 506.0 510.1 513.6 519.4 523.1 526.4" y="364.15">javax/servlet/ht..</text>
<text x="549.8 555.4 559.1 565.3 568.8 574.5 576.9 582.4 587.1 591.8 594.9 597.4 602.1 608.3 612.2 614.9 620.5 624.2 628.8 634.3 640.2 643.7 648.4 653.9 657.7 663.0 665.4 670.9 674.9 678.7 684.6 690.1 693.9 699.2 701.6 707.1 710.6 716.9 722.4 728.1 731.6 737.1 739.5 745.2 750.7 754.7 757.8 762.4 767.9 771.7 777.0 779.4 784.1" y="364.15">org/glassfish/jersey/servlet/ServletContainer.service</text>
<text x="450.1 455.7 459.4 465.6 469.1 474.5 479.3 481.7 484.2 489.8 494.5 500.4 504.3 507.0 512.5 516.0 519.8 523.1" y="352.09">org/eclipse/jett..</text>
<text x="549.8 555.4 559.1 565.3 568.8 574.5 576.9 582.4 587.1 591.8 594.9 597.4 602.1 608.3 612.2 614.9 620.5 624.2 628.8 634.3 640.2 643.7 648.4 653.9 657.7 663.0 665.4 670.9 674.9 678.7 684.6 690.1 693.9 699.2 701.6 707.1 710.6 716.9 722.4 728.1 731.6 737.1 739.5 745.2 750.7 754.7 757.8 762.4 767.9 771.7 777.0 779.4 784.1" y="352.09">org/glassfish/jersey/servlet/ServletContainer.service</text>
<text x="450.0 454.8 460.3 469.6 473.2 478.6 484.4 487.8 493.6 497.3 502.8 508.5 514.7 518.2 523.8 529.2 534.9 538.2" y="340.02">com/antgroup/gea..</text>
<text x="549.8 555.4 559.1 565.3 568.8 574.5 576.9 582.4 587.1 591.8 594.9 597.4 602.1 608.3 612.2 614.9 620.5 624.2 628.8 634.3 640.2 643.7 648.4 653.9 657.7 663.0 665.4 670.9 674.9 678.7 684.6 690.1 693.9 699.2 701.6 707.1 710.6 716.9 722.4 728.1 731.6 737.1 739.5 745.2 750.7 754.7 757.8 762.4 767.9 771.7 777.0 779.4 784.1" y="340.02">org/glassfish/jersey/servlet/ServletContainer.service</text>
<text x="450.0 454.8 460.3 469.6 473.2 478.6 484.4 487.8 493.6 497.3 502.8 508.5 514.7 518.2 523.8 529.2 534.9 538.2" y="327.95">com/antgroup/gea..</text>
<text x="549.8 555.4 559.1 565.3 568.8 574.5 576.9 582.4 587.1 591.8 594.9 597.4 602.1 608.3 612.2 614.9 620.5 624.2 628.8 634.3 640.2 643.7 648.4 653.9 657.7 663.0 665.4 670.9 674.9 678.5 687.3 692.7 698.4 704.7 710.2 718.9 724.5 730.0 735.7 741.1 746.8 750.6 753.7 758.3 763.8 767.6 772.9 775.3 780.0" y="327.95">org/glassfish/jersey/servlet/WebComponent.service</text>
<text x="450.5 453.2 458.7 464.0 470.0 473.5 476.0 481.4 487.1 493.3 497.1 503.0 506.7 510.4 512.9 518.6 524.4 527.7" y="315.89">java/lang/String..</text>
<text x="549.8 555.4 559.1 565.3 568.8 574.5 576.9 582.4 587.1 591.8 594.9 597.4 602.1 608.3 612.2 614.9 620.5 624.2 628.8 634.3 640.2 643.7 648.4 653.9 657.7 663.0 665.4 670.9 674.9 678.5 687.3 692.7 698.4 704.7 710.2 718.9 724.5 730.0 735.7 741.1 746.8 750.6 753.7 758.3 763.8 767.6 772.9 775.3 780.0 786.1 789.3 798.0 803.7" y="315.89">org/glassfish/jersey/servlet/WebComponent.serviceImpl</text>
<text x="450.5 453.2 458.7 464.0 470.0 473.5 476.0 481.4 487.1 493.3 497.1 503.0 506.7 510.4 512.9 518.6 524.4 527.7" y="303.82">java/lang/String..</text>
<text x="549.8 555.4 559.1 565.3 568.8 574.5 576.9 582.4 587.1 591.8 594.9 597.4 602.1 608.3 612.2 614.9 620.5 624.2 628.8 634.3 640.2 643.7 648.4 653.9 657.7 662.9 668.5 672.8 676.3 682.4 688.1 693.7 696.2 698.5 703.3 709.0 712.3" y="303.82">org/glassfish/jersey/server/Applica..</text>
<text x="749.1 754.7 758.4 764.6 768.1 773.8 776.2 781.7 786.4 791.1 794.2 796.7 801.4 807.6 811.5 814.2 819.9 823.2" y="303.82">org/glassfish/je..</text>
<text x="450.5 453.2 458.7 464.0 470.0 473.5 479.3 482.8 485.3 488.3 491.8 498.1 501.9 505.7 511.1 516.5 521.7 525.0" y="291.76">java/util/ArrayL..</text>
<text x="549.8 555.4 559.1 565.3 568.8 574.5 576.9 582.4 587.1 591.8 594.9 597.4 602.1 608.3 612.2 614.9 620.5 624.2 628.8 634.3 640.2 643.7 648.4 653.9 657.7 662.9 668.5 672.8 676.5 682.4 687.9 691.7 697.0 702.5 706.3 712.8 716.0" y="291.76">org/glassfish/jersey/server/ServerR..</text>
<text x="450.5 453.2 458.7 464.0 470.0 473.5 479.3 482.8 485.3 488.3 491.8 498.1 501.9 505.7 511.1 516.5 521.7 525.0" y="279.69">java/util/ArrayL..</text>
<text x="549.8 555.4 559.1 565.3 568.8 574.5 576.9 582.4 587.1 591.8 594.9 597.4 602.1 608.3 612.2 614.9 620.5 624.2 628.8 634.3 640.2 643.7 649.4 653.2 658.6 663.3 668.8 673.5 678.7 682.2 684.7 690.4 693.9 699.4 703.2 709.1 712.4" y="279.69">org/glassfish/jersey/process/intern..</text>
<text x="450.5 453.2 458.7 464.0 470.0 473.5 479.3 482.8 485.3 488.3 491.8 498.1 501.9 505.7 511.1 516.5 521.7 525.0" y="267.62">java/util/ArrayL..</text>
<text x="549.8 555.4 559.1 565.3 568.8 574.5 576.9 582.4 587.1 591.8 594.9 597.4 602.1 608.3 612.2 614.9 620.6 623.9" y="267.62">org/glassfish/je..</text>
<text x="649.4 655.0 658.7 664.9 668.4 674.1 676.5 682.0 686.7 691.4 694.6 697.1 701.7 708.0 711.9 714.6 720.2 723.5" y="267.62">org/glassfish/je..</text>
<text x="450.5 453.2 458.7 464.0 470.0 473.5 479.3 482.8 485.3 488.3 491.8 498.1 501.9 505.7 511.1 516.5 521.7 525.0" y="255.56">java/util/ArrayL..</text>
<text x="549.8 555.4 559.1 565.3 568.8 574.5 576.9 582.4 587.1 591.8 594.9 597.4 602.1 608.3 612.2 614.9 620.6 623.9" y="255.56">org/glassfish/je..</text>
<text x="649.4 655.0 658.7 664.9 668.4 674.1 676.5 682.0 686.7 691.4 694.6 697.1 701.7 708.0 711.9 714.6 720.2 723.5" y="255.56">org/glassfish/je..</text>
<text x="450.5 453.2 458.7 464.0 470.0 473.5 479.3 482.8 485.3 488.3 491.8 498.1 501.9 505.7 511.1 516.5 521.4 524.7" y="243.49">java/util/Arrays..</text>
<text x="549.8 555.4 559.1 565.3 568.8 574.5 576.9 582.4 587.1 591.8 594.9 597.4 602.1 608.3 612.2 614.9 620.6 623.9" y="243.49">org/glassfish/je..</text>
<text x="649.8 652.5 658.0 663.3 669.3 672.8 675.3 680.7 686.4 692.6 696.7 700.0 703.4 709.0 712.7 718.1 724.0 727.3" y="243.49">java/lang/Iterab..</text>
<text x="549.8 555.4 559.1 565.3 568.8 574.5 576.9 582.4 587.1 591.8 594.9 597.4 602.1 608.3 612.2 614.9 620.6 623.9" y="231.42">org/glassfish/je..</text>
<text x="649.4 655.0 658.7 664.9 668.4 674.1 676.5 682.0 686.7 691.4 694.6 697.1 701.7 708.0 711.9 714.6 720.2 723.5" y="231.42">org/glassfish/je..</text>
<text x="549.8 555.4 559.1 565.3 568.8 574.5 576.9 582.4 587.1 591.8 594.9 597.4 602.1 608.3 612.2 614.9 620.6 623.9" y="219.36">org/glassfish/je..</text>
<text x="649.4 655.0 658.7 664.9 668.4 674.1 676.5 682.0 686.7 691.4 694.6 697.1 701.7 708.0 711.9 714.6 720.2 723.5" y="219.36">org/glassfish/je..</text>
<text x="549.8 555.4 559.1 565.3 568.8 574.5 576.9 582.4 587.1 591.8 594.9 597.4 602.1 608.3 612.2 614.9 620.6 623.9" y="207.29">org/glassfish/je..</text>
<text x="649.4 655.0 658.7 664.9 668.4 674.1 676.5 682.0 686.7 691.4 694.6 697.1 701.7 708.0 711.9 714.6 720.2 723.5" y="207.29">org/glassfish/je..</text>
<text x="549.8 555.4 559.1 565.3 568.8 574.5 576.9 582.4 587.1 591.8 594.9 597.4 602.1 608.3 612.2 614.9 620.6 623.9" y="195.22">org/glassfish/je..</text>
<text x="649.4 655.0 658.7 664.9 668.4 674.1 676.5 682.0 686.7 691.4 694.6 697.1 701.7 708.0 711.9 714.6 720.2 723.5" y="195.22">org/glassfish/je..</text>
<text x="549.8 555.4 559.1 565.3 568.8 574.5 576.9 582.4 587.1 591.8 594.9 597.4 602.1 608.3 612.2 614.9 620.6 623.9" y="183.16">org/glassfish/je..</text>
<text x="649.4 655.0 658.7 664.9 668.4 674.1 676.5 682.0 686.7 691.4 694.6 697.1 701.7 708.0 711.9 714.6 720.2 723.5" y="183.16">org/glassfish/je..</text>
<text x="549.8 555.4 559.1 565.3 568.8 574.5 576.9 582.4 587.1 591.8 594.9 597.4 602.1 608.3 612.2 614.9 620.6 623.9" y="171.09">org/glassfish/je..</text>
<text x="649.4 655.0 658.7 664.9 668.8 671.6 676.9 682.6 688.0 692.1 695.7 701.4 706.7 713.0 716.5 719.0 724.9 728.2" y="171.09">org/jvnet/hk2/in..</text>
<text x="550.4 553.6 559.3 562.8 568.3 572.0 577.8 581.5 587.0 590.4 595.9 599.7 606.0 611.7 617.4 620.9 623.6 626.9" y="159.03">InterpreterRunti..</text>
<text x="649.4 655.0 658.7 664.9 668.8 671.6 676.9 682.6 688.0 692.1 695.7 701.4 706.7 713.0 716.5 719.0 724.9 728.2" y="159.03">org/jvnet/hk2/in..</text>
<text x="550.4 556.2 561.3 568.9 572.7 577.8 586.5 591.9 600.7 605.3 610.8" y="146.96">__GI_memset</text>
</g>
    <!-- logo -->
    <g fill="none" stroke="#0b3dff" stroke-width="1.8" stroke-linejoin="miter">
      <path d="M29.2 12 H22.4 A9.4 9.4 0 0 0 22.4 30.8 H29.8 V19.3 H23.3"/>
      <path d="M30.8 15.7 H22.6 A5.65 5.65 0 0 0 22.6 27 H26 V23.1 H21.9"/>
    </g>
    <circle cx="29.2" cy="12" r="1.5" fill="#1fcf8c"/>
    <circle cx="23.3" cy="19.6" r="1.5" fill="#1fcf8c"/>
    <!-- menu icons -->
    <g fill="none" stroke="#5c5c5c" stroke-width="0.95">
      <circle cx="26.2" cy="60.1" r="4.7"/>
      <path d="M24.2 58.4 V59.5 A2 2.1 0 0 0 28.2 59.5 V58.4" stroke-width="0.9" stroke="#777"/>
      <path d="M21.5 89.4 H31 V96.6 H21.5 Z M21.5 91.8 H31 M21.5 94.2 H31 M24.7 89.4 V96.6 M27.8 89.4 V96.6" stroke-width="0.85"/>
      <path d="M22.6 130.6 L21.8 124.4 L24.3 125.9 L26.2 123.3 L28.1 125.9 L30.6 124.4 L29.8 130.6 Z" stroke-width="0.9" stroke-linejoin="round"/>
    </g>
    
    <circle cx="26.2" cy="127.9" r="0.9" fill="#5c5c5c"/>
    <path d="M163.4 128.6 L166.6 125.4 L169.8 128.6" fill="none" stroke="#4a4a4a" stroke-width="1.1"/>
    <path d="M195.4 62 L192.7 64.7 L195.4 67.4" fill="none" stroke="#8a8a8a" stroke-width="1.05"/>
    <!-- buttons -->
    <path d="M255.9 118.1 H262.9 L259.4 124.3 Z" fill="#ff0000"/>
    <circle cx="285.3" cy="119.8" r="2.9" fill="#f4f8fb" stroke="#8a949c" stroke-width="0.8"/>
    <path d="M287.6 122.1 L290.6 125.1" stroke="#222" stroke-width="1.7" stroke-linecap="round"/>
    <!-- header right -->
    <g fill="none" stroke="#858585" stroke-width="0.95">
      <circle cx="1359.4" cy="21" r="5.45"/>
      <path d="M1357.3 19.6 A2.1 1.9 0 1 1 1359.4 21.4 V22.8" />
    </g>
    <circle cx="1359.4" cy="24.3" r="0.55" fill="#858585"/>
    <svg x="1375.8" y="14.25" width="13.75" height="13.75" viewBox="0 0 24 24"><path fill="#7a7a7a" d="M12.87 15.07l-2.54-2.51.03-.03c1.74-1.94 2.98-4.17 3.71-6.53H17V4h-7V2H8v2H1v1.99h11.17C11.5 7.92 10.44 9.75 9 11.35 8.07 10.32 7.3 9.19 6.69 8h-2c.73 1.63 1.73 3.17 2.98 4.56l-5.09 5.02L4 19l5-5 3.11 3.11.76-2.04zM18.5 10h-2L12 22h2l1.12-3h4.75L21 22h2l-4.5-12zm-2.62 7l1.62-4.33L19.12 17h-3.24z"/></svg>
    <!-- avatar -->
    <circle cx="1422.6" cy="21.2" r="10" fill="#b3dcff"/>
    <path d="M1417.3 15.2 L1418.4 13.1 L1420.2 14.6 Z M1421.6 14.2 L1422.9 12.7 L1424.4 14.6 Z" fill="#5b8fe8"/>
    <ellipse cx="1421.8" cy="21.3" rx="6.8" ry="6.6" fill="#40a9ff"/>
    <path d="M1415.6 26.6 L1424.6 27 L1427 29.6 C1424.5 31.6 1418.5 32 1415.6 26.6 Z" fill="#40a9ff"/>
    <path d="M1420.6 27.6 L1426 26.6 L1427.2 29.4 L1421.8 30.6 Z" fill="#8ec5ff"/>
    <ellipse cx="1421.9" cy="22.3" rx="5.2" ry="3.9" fill="#fff"/>
    <circle cx="1419.2" cy="22.2" r="0.6" fill="#5a78e0"/><circle cx="1423.8" cy="22.2" r="0.65" fill="#4a68e0"/><path d="M1420.6 23 Q1421.5 23.8 1422.4 23" stroke="#6a88e8" stroke-width="0.4" fill="none"/>
    <!-- window corners -->
    <path d="M0 757 V748.5 A8.5 8.5 0 0 0 8.5 757 Z" fill="#1f4f90"/>
    <path d="M1500 757 V747 A10 10 0 0 1 1490 757 Z" fill="#c4561c"/>
  </svg>

</body>
</html>
